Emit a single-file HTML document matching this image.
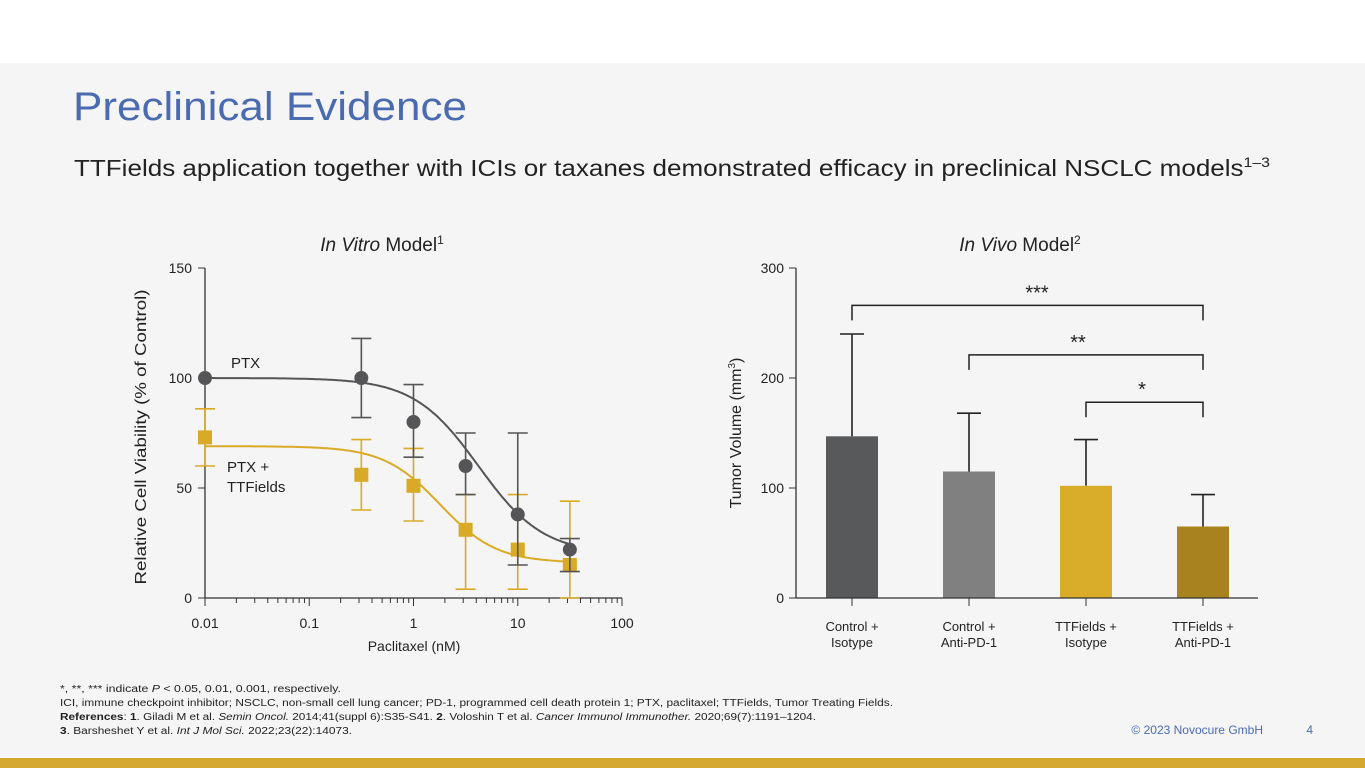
<!DOCTYPE html>
<html><head><meta charset="utf-8"><style>
html,body{margin:0;padding:0;background:#fff;}
svg{display:block;font-family:"Liberation Sans",sans-serif;}
</style></head><body>
<svg id="s" width="1365" height="768" viewBox="0 0 1365 768">
<rect x="0" y="0" width="1365" height="63" fill="#ffffff"/>
<rect x="0" y="63" width="1365" height="695" fill="#f5f5f5"/>
<rect x="0" y="758" width="1365" height="10" fill="#d4a92f"/>
<text x="73" y="120" font-size="40" fill="#4a6bb0" textLength="394" lengthAdjust="spacingAndGlyphs">Preclinical Evidence</text>
<text x="74" y="176" font-size="23" fill="#222" textLength="1196" lengthAdjust="spacingAndGlyphs">TTFields application together with ICIs or taxanes demonstrated efficacy in preclinical NSCLC models<tspan font-size="14" dy="-9">1–3</tspan></text>
<text x="382" y="251" font-size="19" fill="#222" text-anchor="middle"><tspan font-style="italic">In Vitro</tspan> Model<tspan font-size="12" dy="-7">1</tspan></text>
<text x="1020" y="251" font-size="19" fill="#222" text-anchor="middle"><tspan font-style="italic">In Vivo</tspan> Model<tspan font-size="12" dy="-7">2</tspan></text>
<g id="left"></g>
<g id="right"></g>
<g font-size="10" fill="#222">
<text x="60" y="692" textLength="281" lengthAdjust="spacingAndGlyphs">*, **, *** indicate <tspan font-style="italic">P</tspan> &lt; 0.05, 0.01, 0.001, respectively.</text>
<text x="60" y="706" textLength="833" lengthAdjust="spacingAndGlyphs">ICI, immune checkpoint inhibitor; NSCLC, non-small cell lung cancer; PD-1, programmed cell death protein 1; PTX, paclitaxel; TTFields, Tumor Treating Fields.</text>
<text x="60" y="720" textLength="756" lengthAdjust="spacingAndGlyphs"><tspan font-weight="bold">References</tspan>: <tspan font-weight="bold">1</tspan>. Giladi M et al. <tspan font-style="italic">Semin Oncol.</tspan> 2014;41(suppl 6):S35-S41. <tspan font-weight="bold">2</tspan>. Voloshin T et al. <tspan font-style="italic">Cancer Immunol Immunother.</tspan> 2020;69(7):1191–1204.</text>
<text x="60" y="734" textLength="292" lengthAdjust="spacingAndGlyphs"><tspan font-weight="bold">3</tspan>. Barsheshet Y et al. <tspan font-style="italic">Int J Mol Sci.</tspan> 2022;23(22):14073.</text>
</g>
<text x="1263" y="734" font-size="12" fill="#4a6bb0" text-anchor="end">© 2023 Novocure GmbH</text>
<text x="1313" y="734" font-size="12" fill="#4a6bb0" text-anchor="end">4</text>
</svg>
<script>
// In vitro data
const doses = [0.01, 0.316, 1, 3.16, 10, 31.6];
const ptxMean = [100, 100, 80, 60, 38, 22];
const ptxLow = [100, 82, 64, 47, 15, 12];
const ptxHigh = [100, 118, 97, 75, 75, 27];
const ttfMean = [73, 56, 51, 31, 22, 15];
const ttfLow = [60, 40, 35, 4, 4, 0];
const ttfHigh = [86, 72, 68, 47, 47, 44];
const ptxFit = [100, 20, 4.2, 1.4];   // top, bottom, IC50, hill
const ttfFit = [69, 16, 1.8, 1.6];
const yTicksL = [0, 50, 100, 150];
const xTickDecades = [0.01, 0.1, 1, 10, 100];
const xTickLabels = ["0.01", "0.1", "1", "10", "100"];
// In vivo data
const groups = ["Control +|Isotype", "Control +|Anti-PD-1", "TTFields +|Isotype", "TTFields +|Anti-PD-1"];
const volumes = [147, 115, 102, 65];
const volErr = [240, 168, 144, 94];
const yTicksR = [0, 100, 200, 300];
const brackets = [[0, 3, "***"], [1, 3, "**"], [2, 3, "*"]];
const bracketLevels = [266, 221, 178];

const NS = "http://www.w3.org/2000/svg";
function mk(parent, tag, attrs) {
  const e = document.createElementNS(NS, tag);
  for (const k in attrs) e.setAttribute(k, attrs[k]);
  parent.appendChild(e);
  return e;
}
const L = document.getElementById("left");
const lx = v => 205 + (Math.log10(v) + 2) * 104.25;
const ly = v => 598 - v * 2.2;
let e;
e = mk(L, "line", {x1: 205, y1: 268, x2: 205, y2: 598, stroke: "#333", "stroke-width": 1.3});


e = mk(L, "line", {x1: 205, y1: 598, x2: 622, y2: 598, stroke: "#333", "stroke-width": 1.3});


yTicksL.forEach(t => {
  e = mk(L, "line", {x1: 198, y1: ly(t), x2: 205, y2: ly(t), stroke: "#333"});
  
  
  e = mk(L, "text", {x: 192, y: ly(t) + 5, "font-size": 14, "text-anchor": "end", fill: "#222"});
  e.textContent = t;
  
  
});
xTickDecades.forEach((d, i) => {
  e = mk(L, "line", {x1: lx(d), y1: 598, x2: lx(d), y2: 606, stroke: "#333"});
  
  
  e = mk(L, "text", {x: lx(d), y: 628, "font-size": 14, "text-anchor": "middle", fill: "#222"});
  e.textContent = xTickLabels[i];
  
  
  if (i < xTickDecades.length - 1) for (let m = 2; m <= 9; m++) {
    e = mk(L, "line", {x1: lx(d * m), y1: 598, x2: lx(d * m), y2: 603, stroke: "#333"});
    
    
  }
});
e = mk(L, "text", {x: 414, y: 651, "font-size": 14, "text-anchor": "middle", fill: "#222"});
e.textContent = "Paclitaxel (nM)";


e = mk(L, "text", {x: 0, y: 0, "font-size": 16, "text-anchor": "middle", fill: "#222", textLength: 295, lengthAdjust: "spacingAndGlyphs", transform: "translate(146,437) rotate(-90)"});
e.textContent = "Relative Cell Viability (% of Control)";


function curve(p) {
  let d = "";
  for (let k = 0; k <= 200; k++) {
    const lg = -2 + k * (Math.log10(31.6) + 2) / 200;
    const c = Math.pow(10, lg);
    const v = p[1] + (p[0] - p[1]) / (1 + Math.pow(c / p[2], p[3]));
    d += (k ? "L" : "M") + lx(c).toFixed(1) + "," + ly(v).toFixed(1);
  }
  return d;
}
function series(mean, lo, hi, fit, color, shape, name) {
  const g = mk(L, "g", {});
  
  
  e = mk(g, "path", {d: curve(fit), fill: "none", stroke: color, "stroke-width": 2});
  
  
  doses.forEach((d, i) => {
    const x = lx(d);
    if (hi[i] !== lo[i]) {
      e = mk(g, "path", {d: `M${x},${ly(lo[i])}V${ly(hi[i])}M${x-10},${ly(lo[i])}H${x+10}M${x-10},${ly(hi[i])}H${x+10}`, stroke: color, "stroke-width": 1.6, fill: "none"});
      
      
    }
    if (shape === "c") e = mk(g, "circle", {cx: x, cy: ly(mean[i]), r: 7, fill: color});
    else e = mk(g, "rect", {x: x - 7, y: ly(mean[i]) - 7, width: 14, height: 14, fill: color});
    
    
  });
}
series(ttfMean, ttfLow, ttfHigh, ttfFit, "#d9aa26", "s", "ptx-ttfields");
series(ptxMean, ptxLow, ptxHigh, ptxFit, "#555557", "c", "ptx");
e = mk(L, "text", {x: 231, y: 368, "font-size": 15, fill: "#222"});
e.textContent = "PTX";


e = mk(L, "text", {x: 227, y: 472, "font-size": 15, fill: "#222"});
e.textContent = "PTX +";


e = mk(L, "text", {x: 227, y: 492, "font-size": 15, fill: "#222"});
e.textContent = "TTFields";



// Right chart
const R = document.getElementById("right");
const bx = i => 852 + i * 117;
const by = v => 598 - v * 1.1;
const colors = ["#58595b", "#808080", "#d9ad29", "#a8821f"];
e = mk(R, "line", {x1: 796, y1: 268, x2: 796, y2: 598, stroke: "#333", "stroke-width": 1.3});


yTicksR.forEach(t => {
  e = mk(R, "line", {x1: 789, y1: by(t), x2: 796, y2: by(t), stroke: "#333"});
  
  
  e = mk(R, "text", {x: 784, y: by(t) + 5, "font-size": 14, "text-anchor": "end", fill: "#222"});
  e.textContent = t;
  
  
});
e = mk(R, "text", {x: 0, y: 0, "font-size": 16, "text-anchor": "middle", fill: "#222", transform: "translate(741,433) rotate(-90)"});
e.innerHTML = 'Tumor Volume (mm<tspan font-size="10" dy="-6">3</tspan><tspan dy="6">)</tspan>';


groups.forEach((g, i) => {
  const x = bx(i);
  e = mk(R, "path", {d: `M${x},${by(volumes[i])}V${by(volErr[i])}M${x-12},${by(volErr[i])}H${x+12}`, stroke: "#222", "stroke-width": 1.6, fill: "none"});
  
  
  e = mk(R, "rect", {x: x - 26, y: by(volumes[i]), width: 52, height: by(0) - by(volumes[i]), fill: colors[i]});
  
  
  e = mk(R, "line", {x1: x, y1: 598, x2: x, y2: 606, stroke: "#333"});
  
  
  g.split("|").forEach((ln, k) => {
    e = mk(R, "text", {x: x, y: 631 + k * 16, "font-size": 13, "text-anchor": "middle", fill: "#222"});
    e.textContent = ln;
    
    
  });
});
e = mk(R, "line", {x1: 796, y1: 598, x2: 1258, y2: 598, stroke: "#333", "stroke-width": 1.3});


brackets.forEach((b, i) => {
  const x1 = bx(b[0]), x2 = bx(b[1]), y = by(bracketLevels[i]);
  e = mk(R, "path", {d: `M${x1},${y+15}V${y}H${x2}V${y+15}`, stroke: "#222", "stroke-width": 1.5, fill: "none"});
  
  
  e = mk(R, "text", {x: i === 2 ? 1142 : (i === 1 ? 1078 : 1037), y: y - 6, "font-size": 20, "text-anchor": "middle", fill: "#222"});
  e.textContent = b[2];
  
  
});
</script>
</body></html>
